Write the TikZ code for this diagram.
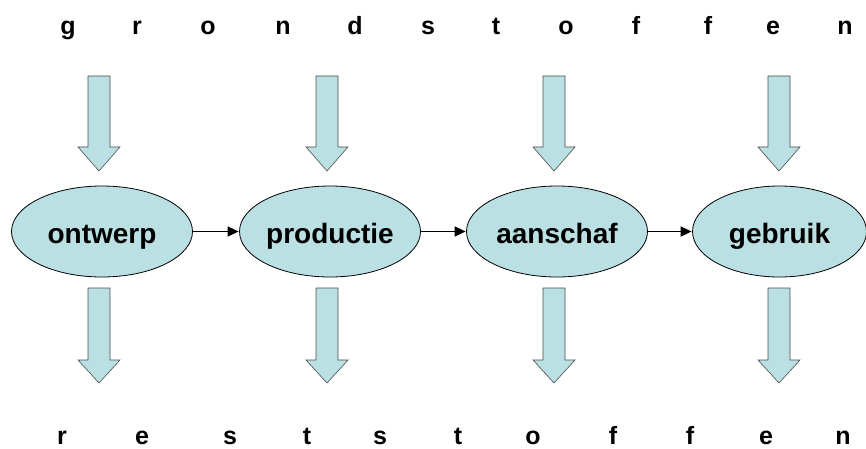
\documentclass[tikz,border=0pt]{standalone}
\usepackage{fontspec}
\setmainfont{Liberation Sans}
\usetikzlibrary{shapes.geometric,arrows.meta}
\definecolor{fillblue}{RGB}{187,224,227}
\begin{document}
\begin{tikzpicture}[x=1pt,y=-1pt,
  stage/.style={ellipse,draw=black,line width=0.8pt,fill=fillblue,minimum width=181pt,minimum height=91pt,inner sep=0pt,text height=23pt,text depth=0pt,font=\fontsize{28}{30}\selectfont\bfseries},
  letter/.style={anchor=base,inner sep=0pt,font=\fontsize{25}{28}\selectfont\bfseries},
  blockarrow/.style={draw=black!70,line width=0.6pt,fill=fillblue,line join=miter},
  flow/.style={-{Triangle[length=11pt,width=10pt]},line width=1.7pt,shorten >=0.5pt}]
\useasboundingbox (0,0) rectangle (866,449);
% top letters
\foreach \ch/\x [count=\i] in {g/68,r/137,o/208,n/283,d/355,s/428,t/496,o/566,f/636,f/708,e/773,n/845}
  \node[letter] (top\i) at (\x,35) {\ch};
% bottom letters
\foreach \ch/\x [count=\i] in {r/62,e/142,s/230,t/307,s/380,t/458,o/533,f/613,f/690,e/766,n/843}
  \node[letter] (bot\i) at (\x,444) {\ch};
% block arrows
\foreach \x in {99,327,554,779} {
  \draw[blockarrow] (\x-11,76) -- (\x+11,76) -- (\x+11,147) -- (\x+21,147) -- (\x,171) -- (\x-21,147) -- (\x-11,147) -- cycle;
  \draw[blockarrow] (\x-11,288) -- (\x+11,288) -- (\x+11,360) -- (\x+21,360) -- (\x,383) -- (\x-21,360) -- (\x-11,360) -- cycle;
}
% stages
\node[stage] (e1) at (102,231.5) {ontwerp};
\node[stage] (e2) at (330,231.5) {productie};
\node[stage] (e3) at (557,231.5) {aanschaf};
\node[stage,minimum width=174pt] (e4) at (779.5,231.5) {gebruik};
\draw[flow] (e1) -- (e2);
\draw[flow] (e2) -- (e3);
\draw[flow] (e3) -- (e4);
\end{tikzpicture}
\end{document}
